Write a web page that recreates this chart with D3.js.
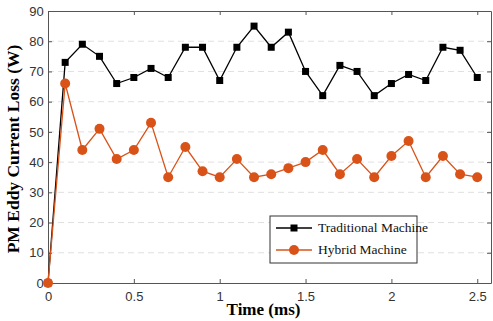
<!DOCTYPE html>
<html>
<head>
<meta charset="utf-8">
<script src="https://cdn.jsdelivr.net/npm/d3@7"></script>
<style>
  body { margin: 0; background: #fff; }
  svg { display: block; }
</style>
</head>
<body>
<svg id="chart" width="493" height="321"></svg>
<script>
// time points (ms)
var times = [0, 0.1, 0.2, 0.3, 0.4, 0.5, 0.6, 0.7, 0.8, 0.9, 1.0, 1.1, 1.2,
  1.3, 1.4, 1.5, 1.6, 1.7, 1.8, 1.9, 2.0, 2.1, 2.2, 2.3, 2.4, 2.5];
var traditional = [0, 73, 79, 75, 66, 68, 71, 68, 78, 78, 67, 78, 85,
  78, 83, 70, 62, 72, 70, 62, 66, 69, 67, 78, 77, 68];
var hybrid = [0, 66, 44, 51, 41, 44, 53, 35, 45, 37, 35, 41, 35,
  36, 38, 40, 44, 36, 41, 35, 42, 47, 35, 42, 36, 35];
var xTicks = [0, 0.5, 1, 1.5, 2, 2.5];
var yTicks = [0, 10, 20, 30, 40, 50, 60, 70, 80, 90];
var seriesNames = ['Traditional Machine', 'Hybrid Machine'];

var svg = d3.select('#chart');
// careful: "top" is window.top, so use other names
var mLeft = 48, mRight = 491, mTop = 11, mBottom = 283;

var x = d3.scaleLinear().domain([0, 2.58]).range([mLeft, mRight]);
var y = d3.scaleLinear().domain([0, 90]).range([mBottom, mTop]);

var black = '#000000';
var orange = '#D95319';
var axisColor = '#555';

// dashed grid
svg.append('g').selectAll('line')
  .data(yTicks.slice(1, -1))
  .enter().append('line')
  .attr('x1', mLeft).attr('x2', mRight)
  .attr('y1', function(d) { return y(d); })
  .attr('y2', function(d) { return y(d); })
  .attr('stroke', '#e0e0e0')
  .attr('stroke-dasharray', '6,4')
  .attr('stroke-width', 1);

// axes
var xAxis = svg.append('g')
  .attr('transform', 'translate(0,' + mBottom + ')')
  .call(d3.axisBottom(x).tickValues(xTicks).tickSizeInner(-4).tickSizeOuter(0)
    .tickFormat(function(d) { return d3.format('')(d); }));
var yAxis = svg.append('g')
  .attr('transform', 'translate(' + mLeft + ',0)')
  .call(d3.axisLeft(y).tickValues(yTicks).tickSizeInner(-4).tickSizeOuter(0));
var xTop = svg.append('g')
  .attr('transform', 'translate(0,' + mTop + ')')
  .call(d3.axisTop(x).tickValues(xTicks).tickSizeInner(-4).tickSizeOuter(0).tickFormat(''));
var yRight = svg.append('g')
  .attr('transform', 'translate(' + mRight + ',0)')
  .call(d3.axisRight(y).tickValues(yTicks).tickSizeInner(-4).tickSizeOuter(0).tickFormat(''));

[xAxis, yAxis, xTop, yRight].forEach(function(g) {
  g.selectAll('path, line').attr('stroke', axisColor);
  g.selectAll('text')
    .attr('fill', '#333')
    .style('font-family', '"Liberation Sans", Arial, sans-serif')
    .style('font-size', '13px');
});
xAxis.selectAll('text').attr('dy', '1.15em');
yAxis.selectAll('text').attr('dx', '-0.1em');

// lines
var line = function(vals) {
  return d3.line()
    .x(function(d, i) { return x(times[i]); })
    .y(function(d) { return y(d); })(vals);
};

svg.append('path').attr('d', line(traditional))
  .attr('fill', 'none').attr('stroke', black).attr('stroke-width', 1.3);
svg.selectAll('.sq').data(traditional).enter().append('rect')
  .attr('class', 'sq')
  .attr('x', function(d, i) { return x(times[i]) - 3.5; })
  .attr('y', function(d) { return y(d) - 3.5; })
  .attr('width', 7).attr('height', 7)
  .attr('fill', black);

svg.append('path').attr('d', line(hybrid))
  .attr('fill', 'none').attr('stroke', orange).attr('stroke-width', 1.3);
svg.selectAll('.dot').data(hybrid).enter().append('circle')
  .attr('class', 'dot')
  .attr('cx', function(d, i) { return x(times[i]); })
  .attr('cy', function(d) { return y(d); })
  .attr('r', 5)
  .attr('fill', orange);

// axis titles
svg.append('text')
  .attr('x', (mLeft + mRight) / 2 - 6).attr('y', 315)
  .attr('text-anchor', 'middle')
  .style('font-family', '"Liberation Serif", "Times New Roman", serif')
  .style('font-weight', 'bold').style('font-size', '17px')
  .text('Time (ms)');
svg.append('text')
  .attr('transform', 'translate(19,' + ((mTop + mBottom) / 2 + 2) + ') rotate(-90)')
  .attr('text-anchor', 'middle')
  .style('font-family', '"Liberation Serif", "Times New Roman", serif')
  .style('font-weight', 'bold').style('font-size', '17.5px')
  .text('PM Eddy Current Loss (W)');

// legend
var lg = svg.append('g').attr('transform', 'translate(270,216)');
lg.append('rect').attr('width', 147).attr('height', 47)
  .attr('fill', '#fff').attr('stroke', '#333').attr('stroke-width', 1);
var colors = [black, orange];
seriesNames.forEach(function(name, i) {
  var yy = 12 + i * 22;
  lg.append('line').attr('x1', 6).attr('x2', 42).attr('y1', yy).attr('y2', yy)
    .attr('stroke', colors[i]).attr('stroke-width', 1.3);
  if (i === 0) {
    lg.append('rect').attr('x', 20.5).attr('y', yy - 3.5).attr('width', 7).attr('height', 7)
      .attr('fill', black);
  } else {
    lg.append('circle').attr('cx', 24).attr('cy', yy).attr('r', 5).attr('fill', orange);
  }
  lg.append('text').attr('x', 48).attr('y', yy + 4)
    .style('font-family', '"Liberation Serif", "Times New Roman", serif')
    .style('font-size', '13.5px')
    .attr('fill', '#111')
    .text(name);
});
</script>
</body>
</html>
